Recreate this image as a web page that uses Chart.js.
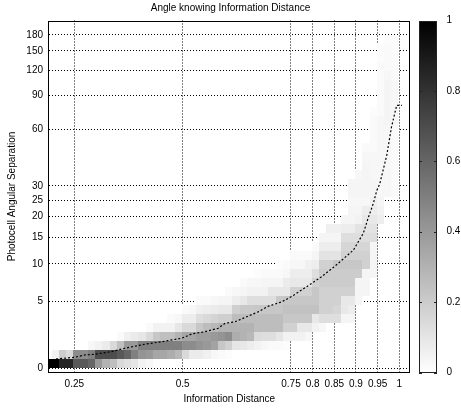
<!DOCTYPE html>
<html>
<head>
<meta charset="utf-8">
<script src="https://cdn.jsdelivr.net/npm/chart.js@4.4.0/dist/chart.umd.min.js"></script>
<style>
  html, body { margin: 0; padding: 0; background: #fff; }
  #wrap { width: 461px; height: 411px; }
</style>
</head>
<body>
<div id="wrap"><canvas id="c" width="461" height="411"></canvas></div>
<script>
// histogram bins along Information Distance
const xBinStart = 0.1813;
const xBinWidth = 1 / 60;
// angle axis is warped as log(1 + a/K), rows are equal steps of that
const angleK = 4.58;
const yBinStep = 0.1;

const xRange = [0.1916, 1.0235];
const yRange = [-0.21, 212];

const xTicks = [0.25, 0.5, 0.75, 0.8, 0.85, 0.9, 0.95, 1];
const yTicks = [0, 5, 10, 15, 20, 25, 30, 60, 90, 120, 150, 180];
const cbTicks = [0, 0.2, 0.4, 0.6, 0.8, 1];

// per x bin: first filled row, then cell values (% of colour range) upward
const colStart = [
  0, 0, 0, 0, 0, 0, 0, 0, 0, 0,
  0, 0, 0, 0, 0, 0, 1, 1, 1, 1,
  1, 1, 1, 1, 1, 1, 2, 2, 2, 2,
  2, 2, 2, 2, 3, 3, 3, 4, 4, 5,
  5, 5, 5, 7, 8, 10, 16, 19, 19
];
const colValues = [
  [100],
  [100, 5],
  [85, 20],
  [85, 15],
  [65, 45],
  [65, 45],
  [60, 50, 3],
  [40, 70, 5],
  [30, 70, 8],
  [25, 70, 15],
  [15, 65, 25, 2],
  [12, 60, 40, 6],
  [10, 50, 40, 8],
  [5, 42, 50, 10],
  [3, 40, 50, 15, 2],
  [1, 35, 50, 22, 5],
  [35, 50, 25, 5],
  [32, 50, 25, 5, 2],
  [28, 50, 30, 10, 3],
  [15, 45, 35, 15, 7, 2],
  [8, 45, 35, 15, 7, 3],
  [8, 42, 38, 22, 13, 6, 2],
  [6, 40, 38, 26, 15, 7, 2],
  [3, 36, 40, 28, 17, 8, 3],
  [2, 22, 42, 30, 19, 9, 4],
  [1, 18, 45, 30, 19, 9, 4, 2],
  [10, 32, 30, 26, 19, 7, 3],
  [9, 30, 30, 26, 21, 9, 4, 2],
  [7, 28, 30, 26, 21, 13, 5, 3],
  [5, 14, 26, 26, 22, 13, 5, 3, 1],
  [3, 13, 26, 26, 22, 13, 5, 4, 2],
  [2, 13, 26, 26, 22, 13, 9, 4, 2],
  [2, 10, 26, 26, 22, 21, 9, 4, 2, 1],
  [1, 5, 18, 22, 24, 22, 9, 8, 3, 2],
  [5, 18, 22, 24, 22, 18, 9, 7, 3, 2],
  [5, 9, 22, 24, 22, 18, 9, 7, 3, 2],
  [3, 9, 22, 24, 22, 18, 9, 7, 6, 2],
  [5, 9, 24, 22, 22, 18, 13, 7, 4, 2],
  [3, 13, 18, 18, 18, 20, 20, 18, 11, 7, 4],
  [13, 18, 18, 18, 20, 20, 18, 11, 7, 4, 6],
  [13, 16, 18, 18, 20, 20, 22, 11, 7, 4, 6],
  [4, 9, 9, 18, 20, 20, 22, 18, 16, 13, 7, 4],
  [4, 7, 9, 18, 20, 20, 22, 18, 16, 13, 7, 4, 4, 3, 4, 4],
  [4, 4, 4, 20, 22, 18, 16, 13, 11, 5, 4, 3, 4, 4, 3],
  [4, 4, 4, 18, 18, 16, 13, 11, 9, 7, 3, 4, 4, 4, 4, 3, 2],
  [4, 4, 4, 4, 13, 11, 9, 7, 6, 4, 4, 3, 3, 3, 2, 2, 2, 2, 1],
  [7, 5, 4, 3, 3, 3, 3, 3, 3, 3, 3, 3, 2, 2, 2, 2, 2, 2, 1, 1],
  [3, 3, 3, 3, 3, 3, 3, 3, 4, 4, 4, 4, 4, 3, 2, 2, 2, 1],
  [2, 2, 2, 2, 2, 2, 2, 2, 3, 3, 3, 3, 3, 2, 2, 2, 1, 1]
];

// dotted curve through the distribution
const meanX = [0.208, 0.25, 0.275, 0.298, 0.336, 0.367, 0.413, 0.452, 0.498, 0.521,
  0.551, 0.582, 0.598, 0.621, 0.674, 0.698, 0.728, 0.752, 0.798, 0.821,
  0.851, 0.894, 0.917, 0.928, 0.94, 0.948, 0.955, 0.971, 0.982, 0.994, 1.006];
const meanY = [0.5, 0.59, 0.73, 0.77, 0.93, 1.14, 1.4, 1.57, 1.81, 2.12,
  2.29, 2.56, 2.96, 3.09, 3.98, 4.54, 4.97, 5.58, 7.17, 8.07,
  9.6, 12.4, 15.9, 19.6, 23.9, 28.3, 30.9, 44, 62, 80, 80];

const toT = v => Math.log(1 + v / angleK);
const FONT = { family: '"Liberation Sans", Arial, Helvetica, sans-serif', size: 10, weight: 'normal' };

const noPad = s => { s.paddingTop = 0; s.paddingBottom = 0; };

const heatmap = {
  id: 'heatmap',
  beforeDatasetsDraw(chart) {
    const { ctx, chartArea: a, scales: { x, y } } = chart;
    ctx.save();
    ctx.beginPath();
    ctx.rect(a.left, a.top, a.width, a.height);
    ctx.clip();
    colValues.forEach((vals, c) => {
      const x0 = Math.round(x.getPixelForValue(xBinStart + c * xBinWidth));
      const x1 = Math.round(x.getPixelForValue(xBinStart + (c + 1) * xBinWidth));
      vals.forEach((v, k) => {
        if (!v) return;
        const r = colStart[c] + k;
        const y0 = Math.round(y.getPixelForValue(r * yBinStep));
        const y1 = Math.round(y.getPixelForValue((r + 1) * yBinStep));
        const g = Math.round(255 * (1 - v / 100));
        ctx.fillStyle = `rgb(${g},${g},${g})`;
        ctx.fillRect(x0, y1, x1 - x0, y0 - y1);
      });
    });
    ctx.restore();
  }
};

const frame = {
  id: 'frame',
  afterDraw(chart) {
    const { ctx, chartArea: a, scales: { cb } } = chart;
    ctx.save();
    ctx.strokeStyle = '#000';
    ctx.lineWidth = 1;
    ctx.strokeRect(Math.round(a.left) - 0.5, Math.round(a.top) + 0.5,
      Math.round(a.right) - Math.round(a.left), Math.round(a.bottom) - Math.round(a.top) - 1);

    // colour box
    const bx0 = Math.round(a.right) + 9, bx1 = bx0 + 18;
    const by0 = Math.round(cb.getPixelForValue(1)), by1 = Math.round(cb.getPixelForValue(0));
    const grad = ctx.createLinearGradient(0, by1, 0, by0);
    grad.addColorStop(0, '#fff');
    grad.addColorStop(1, '#000');
    ctx.fillStyle = grad;
    ctx.fillRect(bx0, by0, bx1 - bx0, by1 - by0);
    ctx.strokeStyle = '#222';
    ctx.strokeRect(bx0 + 0.5, by0 + 0.5, bx1 - bx0 - 1, by1 - by0 - 1);
    ctx.beginPath();
    cbTicks.forEach(v => {
      const py = Math.round(cb.getPixelForValue(v)) + 0.5;
      ctx.moveTo(bx0, py); ctx.lineTo(bx0 + 3, py);
      ctx.moveTo(bx1 - 3, py); ctx.lineTo(bx1, py);
    });
    ctx.stroke();
    ctx.restore();
  }
};

new Chart(document.getElementById('c'), {
  type: 'line',
  data: {
    datasets: [{
      data: meanX.map((v, i) => ({ x: v, y: toT(meanY[i]) })),
      borderColor: '#000',
      borderWidth: 1.2,
      borderDash: [2, 2],
      pointRadius: 0,
      fill: false,
      tension: 0
    }]
  },
  options: {
    responsive: false,
    animation: false,
    layout: { padding: 0 },
    plugins: {
      legend: { display: false },
      tooltip: { enabled: false },
      title: {
        display: true,
        text: 'Angle knowing Information Distance',
        color: '#000',
        font: FONT,
        padding: { top: 2, bottom: 6.5 }
      }
    },
    scales: {
      x: {
        type: 'linear',
        min: xRange[0], max: xRange[1],
        z: 1,
        afterBuildTicks: s => { s.ticks = xTicks.map(v => ({ value: v })); },
        afterFit: s => { s.height = 38.5; s.paddingLeft = 0; s.paddingRight = 0; },
        ticks: { autoSkip: false, maxRotation: 0, padding: 5.5, color: '#000', font: FONT,
          callback: (v, i) => String(xTicks[i]) },
        grid: { color: '#000', lineWidth: 1, drawTicks: false },
        border: { display: false, dash: [1, 2] },
        title: { display: true, text: 'Information Distance', color: '#000', font: FONT,
          padding: { top: 0, bottom: 5.5 } }
      },
      y: {
        type: 'linear',
        min: toT(yRange[0]), max: toT(yRange[1]),
        z: 1,
        afterBuildTicks: s => { s.ticks = yTicks.map(v => ({ value: toT(v) })); },
        afterFit: s => { s.width = 49; noPad(s); },
        ticks: { autoSkip: false, padding: 6, color: '#000', font: FONT,
          callback: (v, i) => String(yTicks[i]) },
        grid: { color: '#000', lineWidth: 1, drawTicks: false },
        border: { display: false, dash: [1, 2] },
        title: { display: true, text: 'Photocell Angular Separation', color: '#000', font: FONT,
          padding: { top: 6.5, bottom: 0 } }
      },
      cb: {
        type: 'linear',
        position: 'right',
        min: 0, max: 1,
        afterBuildTicks: s => { s.ticks = cbTicks.map(v => ({ value: v })); },
        afterFit: s => { s.width = 51.5; noPad(s); },
        ticks: { autoSkip: false, padding: 37, color: '#000', font: FONT,
          callback: (v, i) => String(cbTicks[i]) },
        grid: { display: false, drawTicks: false },
        border: { display: false }
      }
    }
  },
  plugins: [heatmap, frame]
});
</script>
</body>
</html>
